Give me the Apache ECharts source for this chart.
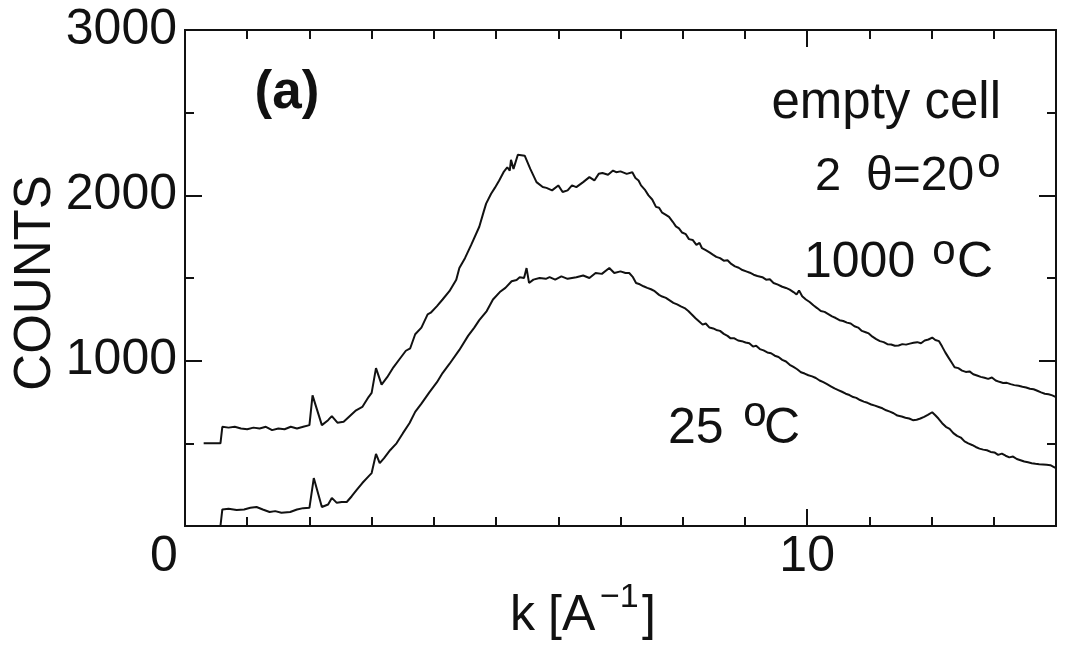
<!DOCTYPE html>
<html>
<head>
<meta charset="utf-8">
<style>
  html, body { margin: 0; padding: 0; background: #fff; }
  #chart { width: 1065px; height: 649px; }
</style>
<script src="https://cdn.jsdelivr.net/npm/echarts@6/dist/echarts.min.js"></script>
</head>
<body>
<div id="chart"></div>
<script>
// Empty-cell scattering, 2θ = 20°: counts versus k for two cell temperatures.

// 1000 °C run
const kHot = [
  0.30, 0.57, 0.60, 0.70, 0.80, 0.90, 1.00, 1.10, 1.20, 1.30, 1.40, 1.50, 1.60, 1.70, 1.80, 1.90,
  2.00, 2.05, 2.20, 2.30, 2.36, 2.45, 2.55, 2.65, 2.75, 2.85, 2.95, 3.00, 3.07, 3.16, 3.25, 3.35,
  3.45, 3.55, 3.62, 3.70, 3.80, 3.90, 3.95, 4.05, 4.14, 4.25, 4.36, 4.41, 4.50, 4.60, 4.73, 4.80,
  4.84, 4.92, 4.98, 5.05, 5.12, 5.18, 5.22, 5.24, 5.28, 5.35, 5.46, 5.55, 5.65, 5.75, 5.81, 5.90,
  6.00, 6.07, 6.15, 6.22, 6.29, 6.40, 6.50, 6.58, 6.65, 6.71, 6.80, 6.88, 6.93, 7.00, 7.10, 7.19,
  7.24, 7.29, 7.33, 7.39, 7.45, 7.51, 7.57, 7.62, 7.67, 7.73, 7.78, 7.84, 7.89, 7.94, 7.99, 8.05,
  8.10, 8.16, 8.22, 8.27, 8.31, 8.37, 8.43, 8.49, 8.54, 8.60, 8.66, 8.72, 8.78, 8.84, 8.90, 8.96,
  9.02, 9.08, 9.14, 9.20, 9.28, 9.34, 9.40, 9.46, 9.53, 9.60, 9.66, 9.72, 9.78, 9.83, 9.87, 9.92,
  9.98, 10.04, 10.10, 10.16, 10.22, 10.28, 10.34, 10.40, 10.46, 10.52, 10.58, 10.64, 10.70, 10.76, 10.82, 10.88,
  10.94, 10.99, 11.05, 11.11, 11.17, 11.23, 11.29, 11.35, 11.41, 11.47, 11.53, 11.59, 11.65, 11.71, 11.77, 11.83,
  11.89, 11.95, 12.01, 12.06, 12.12, 12.17, 12.22, 12.27, 12.32, 12.37, 12.43, 12.49, 12.55, 12.61, 12.67, 12.73,
  12.79, 12.85, 12.91, 12.97, 13.03, 13.09, 13.15, 13.21, 13.27, 13.33, 13.40, 13.46, 13.52, 13.58, 13.64, 13.70,
  13.76, 13.82, 13.88, 13.94, 14.00
];
const countsHot = [
  500, 500, 600, 595, 600, 590, 585, 595, 590, 600, 580, 590, 585, 600, 590, 600,
  610, 790, 610, 640, 665, 625, 630, 665, 700, 720, 780, 805, 955, 855, 900, 960,
  1010, 1060, 1075, 1160, 1200, 1280, 1290, 1330, 1370, 1420, 1490, 1560, 1620, 1700, 1810, 1900,
  1950, 2010, 2045, 2090, 2140, 2170, 2150, 2215, 2160, 2245, 2240, 2160, 2080, 2050, 2045, 2030,
  2060, 2020, 2030, 2060, 2050, 2080, 2110, 2090, 2130, 2135, 2125, 2150, 2140, 2145, 2130, 2140,
  2105, 2090, 2060, 2035, 2000, 1975, 1930, 1925, 1895, 1882, 1870, 1840, 1812, 1800, 1775, 1765,
  1735, 1730, 1700, 1712, 1680, 1668, 1655, 1640, 1628, 1620, 1605, 1607, 1585, 1570, 1562, 1548,
  1540, 1532, 1520, 1512, 1505, 1490, 1492, 1470, 1460, 1447, 1440, 1430, 1415, 1400, 1425, 1390,
  1370, 1355, 1335, 1318, 1300, 1295, 1282, 1268, 1258, 1245, 1240, 1230, 1225, 1208, 1200, 1180,
  1172, 1165, 1145, 1130, 1118, 1112, 1100, 1098, 1090, 1092, 1100, 1097, 1103, 1108, 1112, 1105,
  1122, 1128, 1140, 1125, 1118, 1085, 1050, 1020, 990, 960, 955, 940, 932, 935, 918, 910,
  902, 897, 890, 898, 880, 872, 865, 866, 858, 852, 848, 842, 838, 830, 827, 818,
  808, 800, 797, 790, 780
];

// 25 °C run
const kRoom = [
  0.57, 0.60, 0.70, 0.83, 0.95, 1.05, 1.15, 1.25, 1.36, 1.45, 1.55, 1.69, 1.80, 1.90, 2.00, 2.07,
  2.20, 2.30, 2.36, 2.44, 2.52, 2.60, 2.68, 2.76, 2.85, 2.95, 3.00, 3.07, 3.13, 3.20, 3.30, 3.40,
  3.50, 3.61, 3.70, 3.80, 3.93, 4.05, 4.14, 4.25, 4.41, 4.55, 4.65, 4.73, 4.85, 4.95, 5.06, 5.15,
  5.25, 5.33, 5.38, 5.45, 5.49, 5.53, 5.60, 5.70, 5.80, 5.86, 5.95, 6.05, 6.15, 6.29, 6.40, 6.50,
  6.60, 6.70, 6.82, 6.90, 7.00, 7.08, 7.14, 7.20, 7.25, 7.31, 7.37, 7.43, 7.49, 7.55, 7.62, 7.67,
  7.73, 7.79, 7.85, 7.91, 7.97, 8.03, 8.09, 8.15, 8.21, 8.27, 8.32, 8.37, 8.43, 8.49, 8.54, 8.60,
  8.66, 8.72, 8.77, 8.83, 8.89, 8.95, 9.01, 9.07, 9.13, 9.18, 9.24, 9.30, 9.36, 9.42, 9.48, 9.54,
  9.60, 9.66, 9.72, 9.78, 9.84, 9.90, 9.96, 10.02, 10.08, 10.14, 10.20, 10.26, 10.32, 10.38, 10.44, 10.50,
  10.56, 10.62, 10.68, 10.74, 10.79, 10.85, 10.91, 10.97, 11.03, 11.09, 11.15, 11.21, 11.27, 11.33, 11.39, 11.45,
  11.52, 11.58, 11.64, 11.70, 11.76, 11.82, 11.88, 11.94, 12.01, 12.06, 12.11, 12.17, 12.23, 12.29, 12.35, 12.41,
  12.47, 12.53, 12.59, 12.65, 12.71, 12.77, 12.83, 12.89, 12.95, 13.01, 13.07, 13.13, 13.19, 13.25, 13.31, 13.37,
  13.43, 13.49, 13.55, 13.61, 13.67, 13.73, 13.79, 13.85, 13.91, 13.96, 14.00
];
const countsRoom = [
  0, 100, 105, 97, 100, 110, 115, 100, 85, 90, 80, 85, 100, 108, 110, 290,
  115, 130, 170, 140, 145, 145, 180, 218, 260, 300, 320, 436, 380, 410, 460, 500,
  560, 623, 690, 740, 810, 870, 925, 980, 1065, 1150, 1200, 1245, 1300, 1370, 1415, 1440,
  1480, 1488, 1505, 1500, 1560, 1470, 1490, 1500, 1495, 1505, 1490, 1510, 1495, 1505, 1515, 1500,
  1530, 1525, 1560, 1530, 1540, 1530, 1530, 1505, 1470, 1462, 1450, 1440, 1432, 1420, 1398, 1388,
  1380, 1365, 1350, 1340, 1328, 1318, 1300, 1278, 1255, 1235, 1218, 1225, 1200, 1195, 1186, 1180,
  1162, 1150, 1135, 1135, 1122, 1118, 1110, 1105, 1085, 1090, 1070, 1062, 1050, 1045, 1030, 1022,
  1005, 995, 975, 962, 948, 930, 922, 912, 905, 895, 880, 870, 858, 845, 832, 822,
  812, 800, 792, 780, 775, 762, 752, 745, 735, 728, 720, 712, 700, 692, 682, 668,
  662, 655, 650, 640, 643, 650, 660, 672, 688, 670, 650, 622, 600, 588, 562, 545,
  535, 512, 500, 490, 478, 468, 462, 458, 448, 445, 430, 438, 425, 415, 420, 405,
  398, 390, 385, 380, 376, 373, 372, 370, 368, 358, 350
];

// Axis ranges and tick steps
const kRange = [0, 14];
const countRange = [0, 3000];
const kMajorStep = 10;
const kMinorStep = 1;
const countStep = 1000;

const FONT = '"Liberation Sans", Arial, Helvetica, sans-serif';
const INK = '#111';

function zipPairs(xs, ys) {
  return xs.map((x, i) => [x, ys[i]]);
}

const axisLineStyle = { show: true, onZero: false, lineStyle: { color: INK, width: 2 } };

function kAxis(position, step, tickLen, showLabels) {
  return {
    type: 'value',
    position: position,
    min: kRange[0],
    max: kRange[1],
    interval: step,
    axisLine: axisLineStyle,
    axisTick: { show: true, inside: true, length: tickLen, lineStyle: { color: INK, width: 2 } },
    splitLine: { show: false },
    axisLabel: showLabels ? {
      show: true,
      color: INK,
      fontFamily: FONT,
      fontSize: 50,
      margin: 6,
      showMaxLabel: false,
      formatter: v => (v === 0 ? '{z|0}' : String(v)),
      rich: { z: { fontFamily: FONT, fontSize: 50, color: INK, padding: [0, 42, 0, 0] } }
    } : { show: false }
  };
}

function countAxis(position, showLabels) {
  return {
    type: 'value',
    position: position,
    min: countRange[0],
    max: countRange[1],
    interval: countStep,
    axisLine: axisLineStyle,
    axisTick: { show: true, inside: true, length: 17, lineStyle: { color: INK, width: 2 } },
    minorTick: { show: true, splitNumber: 2, length: 9, lineStyle: { color: INK, width: 2 } },
    splitLine: { show: false },
    minorSplitLine: { show: false },
    axisLabel: showLabels ? {
      show: true,
      color: INK,
      fontFamily: FONT,
      fontSize: 50,
      margin: 8,
      showMinLabel: false,
      formatter: v => String(v)
    } : { show: false }
  };
}

function txt(text, x, y, size, opts) {
  opts = opts || {};
  return {
    type: 'text',
    x: x,
    y: y,
    rotation: opts.rotation || 0,
    silent: true,
    style: {
      text: text,
      x: 0,
      y: 0,
      fill: INK,
      font: (opts.bold ? 'bold ' : '') + size + 'px ' + FONT,
      textAlign: opts.align || 'left',
      textVerticalAlign: 'middle'
    }
  };
}

const chart = echarts.init(document.getElementById('chart'), null, { renderer: 'canvas' });

chart.setOption({
  backgroundColor: '#fff',
  animation: false,
  grid: { left: 185, right: 9, top: 30, bottom: 123, containLabel: false },
  xAxis: [
    kAxis('bottom', kMinorStep, 9, false),
    kAxis('bottom', kMajorStep, 17, true),
    kAxis('top', kMinorStep, 9, false),
    kAxis('top', kMajorStep, 17, false)
  ],
  yAxis: [
    countAxis('left', true),
    countAxis('right', false)
  ],
  series: [
    {
      name: '1000 °C',
      type: 'line',
      xAxisIndex: 0,
      yAxisIndex: 0,
      data: zipPairs(kHot, countsHot),
      showSymbol: false,
      symbol: 'none',
      lineStyle: { color: INK, width: 2 }
    },
    {
      name: '25 °C',
      type: 'line',
      xAxisIndex: 0,
      yAxisIndex: 0,
      data: zipPairs(kRoom, countsRoom),
      showSymbol: false,
      symbol: 'none',
      lineStyle: { color: INK, width: 2 }
    }
  ],
  graphic: [
    // axis titles
    txt('COUNTS', 36, 283, 51, { align: 'center', rotation: Math.PI / 2 }),
    txt('k', 510, 616, 50),
    txt('[A', 548, 616, 50),
    txt('\u22121', 600, 598, 34),
    txt(']', 642, 616, 50),
    // panel tag and annotations
    txt('(a)', 287, 93, 53, { align: 'center', bold: true }),
    txt('empty cell', 1001, 104, 51, { align: 'right' }),
    txt('2', 815, 177, 47),
    txt('\u03b8=20', 866, 177, 48),
    txt('o', 989, 165, 42, { align: 'center' }),
    txt('1000', 804, 263, 50),
    txt('o', 944, 252, 42, { align: 'center' }),
    txt('C', 957, 263, 50),
    txt('25', 668, 429, 50),
    txt('o', 755, 414, 42, { align: 'center' }),
    txt('C', 764, 429, 50)
  ]
});
</script>
</body>
</html>
